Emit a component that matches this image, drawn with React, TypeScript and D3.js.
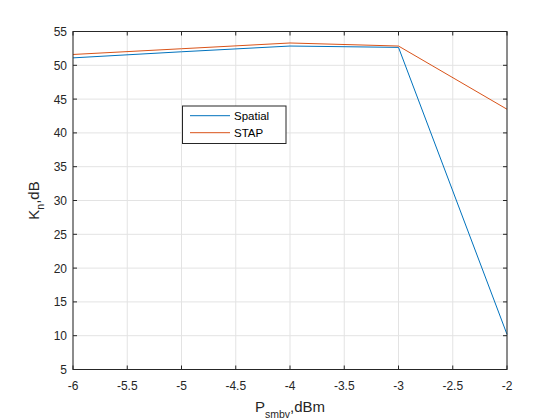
import { useEffect, useRef } from "react"
import * as d3 from "d3"

const powerLevels = [-6, -5, -4, -3, -2]
const spatialValues = [51.1, 52.0, 52.85, 52.65, 10.2]
const stapValues = [51.6, 52.45, 53.3, 52.85, 43.5]
const xTicks = [-6, -5.5, -5, -4.5, -4, -3.5, -3, -2.5, -2]
const yTicks = [5, 10, 15, 20, 25, 30, 35, 40, 45, 50, 55]
const seriesNames = ["Spatial", "STAP"]
const seriesColors = ["#0072BD", "#D95319"]

export default function App() {
  const svgRef = useRef<SVGSVGElement>(null)

  useEffect(() => {
    if (!svgRef.current) return
    const svg = d3.select(svgRef.current)
    svg.selectAll("*").remove()

    const width = 560
    const height = 420
    const left = 73
    const right = 507
    const top = 31.5
    const bottom = 369.5
    const font = "Liberation Sans, Arial, sans-serif"
    const axisColor = "#262626"

    svg.append("rect").attr("width", width).attr("height", height).attr("fill", "#ffffff")

    const x = d3.scaleLinear().domain([-6, -2]).range([left, right])
    const y = d3.scaleLinear().domain([5, 55]).range([bottom, top])

    // grid
    const grid = svg.append("g").attr("stroke", "#e3e3e3").attr("stroke-width", 1)
    xTicks.forEach((t) => {
      grid.append("line").attr("x1", x(t)).attr("x2", x(t)).attr("y1", top).attr("y2", bottom)
    })
    yTicks.forEach((t) => {
      grid.append("line").attr("x1", left).attr("x2", right).attr("y1", y(t)).attr("y2", y(t))
    })

    // series
    const line = d3
      .line<number>()
      .x((_, i) => x(powerLevels[i]))
      .y((d) => y(d))

    ;[spatialValues, stapValues].forEach((vals, i) => {
      svg
        .append("path")
        .attr("d", line(vals))
        .attr("fill", "none")
        .attr("stroke", seriesColors[i])
        .attr("stroke-width", 1)
    })

    // box and ticks
    const frame = svg.append("g").attr("stroke", axisColor).attr("stroke-width", 1).attr("fill", "none")
    frame.append("rect").attr("x", left).attr("y", top).attr("width", right - left).attr("height", bottom - top)
    const tl = 4
    xTicks.forEach((t) => {
      frame.append("line").attr("x1", x(t)).attr("x2", x(t)).attr("y1", bottom).attr("y2", bottom - tl)
      frame.append("line").attr("x1", x(t)).attr("x2", x(t)).attr("y1", top).attr("y2", top + tl)
    })
    yTicks.forEach((t) => {
      frame.append("line").attr("x1", left).attr("x2", left + tl).attr("y1", y(t)).attr("y2", y(t))
      frame.append("line").attr("x1", right).attr("x2", right - tl).attr("y1", y(t)).attr("y2", y(t))
    })

    // tick labels
    svg
      .append("g")
      .selectAll("text")
      .data(xTicks)
      .enter()
      .append("text")
      .attr("x", (d) => x(d))
      .attr("y", 390)
      .attr("text-anchor", "middle")
      .style("font-family", font)
      .style("font-size", "12px")
      .style("fill", axisColor)
      .text((d) => String(d))

    svg
      .append("g")
      .selectAll("text")
      .data(yTicks)
      .enter()
      .append("text")
      .attr("x", 67)
      .attr("y", (d) => y(d) + 4.5)
      .attr("text-anchor", "end")
      .style("font-family", font)
      .style("font-size", "12px")
      .style("fill", axisColor)
      .text((d) => String(d))

    // axis labels
    const xl = svg
      .append("text")
      .attr("x", (left + right) / 2)
      .attr("y", 412)
      .attr("text-anchor", "middle")
      .style("font-family", font)
      .style("font-size", "15px")
      .style("fill", axisColor)
    xl.append("tspan").text("P")
    xl.append("tspan").attr("dy", 6).style("font-size", "10.5px").text("smbv")
    xl.append("tspan").attr("dy", -6).text(",dBm")

    const yl = svg
      .append("text")
      .attr("transform", `translate(39,${(top + bottom) / 2}) rotate(-90)`)
      .attr("text-anchor", "middle")
      .style("font-family", font)
      .style("font-size", "15px")
      .style("fill", axisColor)
    yl.append("tspan").text("K")
    yl.append("tspan").attr("dy", 5).style("font-size", "10.5px").text("n")
    yl.append("tspan").attr("dy", -5).text(",dB")

    // legend
    const lg = svg.append("g")
    lg.append("rect")
      .attr("x", 182.5)
      .attr("y", 106)
      .attr("width", 103.5)
      .attr("height", 37.5)
      .attr("fill", "#ffffff")
      .attr("stroke", axisColor)
      .attr("stroke-width", 1)
    seriesNames.forEach((name, i) => {
      const ry = 115.7 + i * 17
      lg.append("line")
        .attr("x1", 190)
        .attr("x2", 230)
        .attr("y1", ry)
        .attr("y2", ry)
        .attr("stroke", seriesColors[i])
        .attr("stroke-width", 1)
      lg.append("text")
        .attr("x", 234)
        .attr("y", ry + 4)
        .style("font-family", font)
        .style("font-size", "11.5px")
        .style("fill", "#000000")
        .text(name)
    })
  }, [])

  return (
    <svg
      ref={svgRef}
      width={560}
      height={420}
      style={{ position: "absolute", left: 0, top: 0 }}
    />
  )
}
